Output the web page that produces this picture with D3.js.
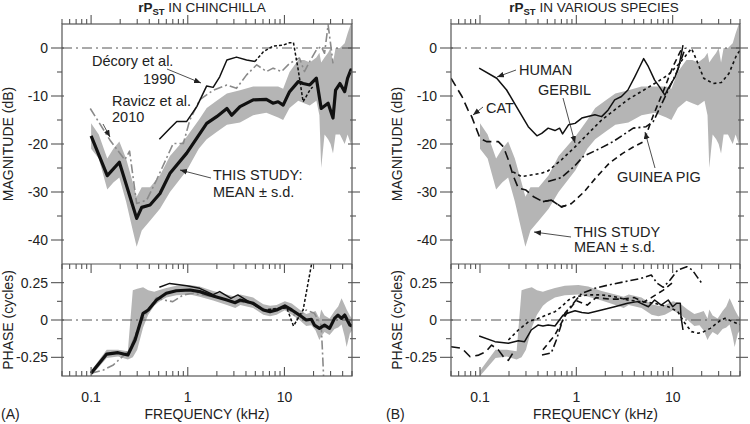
<!DOCTYPE html>
<html>
<head>
<meta charset="utf-8">
<script src="https://cdn.jsdelivr.net/npm/d3@7"></script>
<style>
  body { margin: 0; background: #fff; }
  text { font-family: "Liberation Sans", Arial, sans-serif; fill: #222; }
</style>
</head>
<body>
<script>
// ---- this study (chinchilla), mean and band ----
const magMeanF = [0.1, 0.147, 0.196, 0.296, 0.334, 0.407, 0.516, 0.655, 0.975, 1.57, 1.99, 2.54, 2.85, 3.47, 4.75, 6.5, 7.6, 8.6, 9.7, 11.3, 13.9, 15.6, 18.3, 21.4, 24, 28.3, 31.8, 33.8, 37.5, 42, 45, 48.6, 50];
const magMean = [-18.3, -26.6, -23.8, -35.5, -33.2, -32.7, -30.3, -26.1, -21.9, -15.7, -14.3, -12.6, -14.0, -12.2, -10.8, -10.7, -11.5, -11.2, -11.9, -9.1, -7.0, -7.4, -7.7, -6.3, -12.6, -11.5, -14.6, -8.8, -7.4, -9.1, -6.3, -4.6, -4.5];

const magBandF = [0.1, 0.12, 0.147, 0.17, 0.196, 0.23, 0.27, 0.296, 0.334, 0.407, 0.516, 0.655, 0.975, 1.3, 1.57, 1.99, 2.54, 3.47, 4.75, 6.5, 8.6, 9.7, 11.3, 13.9, 16, 18.3, 21.4, 23, 24, 26, 28.3, 30, 31.8, 33.8, 37.5, 42, 45, 48.6, 50];
const magBandHi = [-15.7, -18, -23, -21, -19.5, -23, -28, -31, -29, -29, -26.5, -22.5, -18.5, -15, -12.5, -11, -9.5, -8.8, -8, -8, -8, -8.5, -5, -2.5, -2.5, -3, -2, -1, -3, -2, -1, 0, -3, 0, 0, 1, 3, 5, 5];
const magBandLo = [-21, -23, -29.5, -28, -27, -32, -38, -41.4, -38, -36, -33.5, -30, -25.5, -21, -19, -17.5, -16, -15.5, -14, -13.5, -14.5, -15, -12.5, -11, -11.5, -12, -11, -14, -25, -18, -19, -20, -22, -18, -18, -20, -18, -20, -19];

const phMeanF = [0.1, 0.145, 0.19, 0.24, 0.285, 0.345, 0.39, 0.475, 0.6, 0.76, 1.05, 1.33, 1.83, 2.54, 3.1, 3.5, 4.75, 6.05, 7.1, 8.3, 10.1, 11.9, 14.3, 16.8, 19, 20.4, 23, 26, 29.3, 33, 35.8, 38.9, 42, 47.5, 50];
const phMean = [-0.357, -0.228, -0.219, -0.234, -0.134, 0.045, 0.067, 0.134, 0.179, 0.196, 0.201, 0.19, 0.161, 0.134, 0.116, 0.134, 0.112, 0.067, 0.056, 0.067, 0.094, 0.067, 0.033, 0, 0.005, -0.034, -0.056, -0.034, -0.056, 0.011, 0.033, 0.011, 0.033, -0.034, -0.04];

const phBandF = [0.1, 0.145, 0.19, 0.24, 0.27, 0.3, 0.345, 0.39, 0.45, 0.5, 0.6, 0.76, 1.05, 1.33, 1.83, 2.54, 3.1, 3.5, 4.75, 6.05, 7.1, 8.3, 10.1, 11.9, 14.3, 16.8, 19, 21, 23, 24, 26, 29.3, 33, 36, 39, 42, 44, 47.5, 50];
const phBandHi = [-0.34, -0.2, -0.2, -0.21, 0.2, 0.21, 0.22, 0.2, 0.19, 0.2, 0.215, 0.23, 0.235, 0.225, 0.195, 0.17, 0.155, 0.17, 0.15, 0.105, 0.095, 0.1, 0.125, 0.11, 0.07, 0.04, 0.05, 0.06, 0.01, 0.07, 0.03, 0.01, 0.06, 0.09, 0.145, 0.1, 0.07, 0.03, 0.01];
const phBandLo = [-0.375, -0.255, -0.245, -0.265, -0.25, -0.2, -0.05, 0.035, 0.095, 0.12, 0.15, 0.165, 0.17, 0.155, 0.13, 0.1, 0.08, 0.1, 0.08, 0.035, 0.025, 0.035, 0.065, 0.035, 0, -0.04, -0.035, -0.07, -0.134, -0.11, -0.08, -0.1, -0.06, -0.05, -0.03, -0.11, -0.18, -0.09, -0.07];

// ---- Décory et al. 1990 (chinchilla) ----
const decMagSolidF = [0.508, 0.655, 0.77, 0.975, 1.24, 1.57, 1.83, 2.14, 2.54, 3.19, 4.06, 4.95];
const decMagSolid = [-19.0, -16.7, -15.3, -15.3, -12.2, -7.9, -8.2, -6.0, -2.5, -1.9, -2.5, -2.8];
const decMagDotF = [4.95, 6.05, 7.6, 9.7, 11.3, 12.4, 13.9, 15.6, 18.3, 19.6];
const decMagDot = [-2.8, -0.8, 0.4, 0.6, 1.1, 1.1, -4.6, -11.2, -8.8, -8.1];
const decPhSolidF = [0.508, 0.65, 0.975, 1.33, 1.83, 2.14, 2.8, 3.3, 4.0, 5.2, 6.0];
const decPhSolid = [0.219, 0.245, 0.23, 0.212, 0.17, 0.19, 0.145, 0.168, 0.134, 0.089, 0.067];
const decPhDotF = [6.0, 8.0, 10.6, 12.4, 15.6, 19.0, 21];
const decPhDot = [0.067, 0.075, 0.08, -0.04, 0.067, 0.368, 0.45];

// ---- Ravicz et al. 2010 (chinchilla) ----
const ravMagF = [0.098, 0.157, 0.223, 0.25, 0.296, 0.376, 0.475, 0.707, 0.9, 1.05, 1.33, 1.83, 2.54, 3.19, 4.06, 5.17, 6.53, 7.63, 9.35, 11.3, 14.3, 16.1, 18.3, 21.4, 24.0, 26, 28.3, 30.6, 31.8];
const ravMag = [-12.6, -19.2, -23.3, -21.5, -32.4, -31.7, -27.5, -19.9, -19.9, -15, -10.8, -8.8, -7.7, -8.4, -5.6, -3.5, -4.9, -4.2, -4.9, -3.2, -2.1, -4.9, -2.8, -0.4, 0.3, -1.1, 4.8, -0.4, -3.2];
const ravPhF = [0.1, 0.134, 0.17, 0.25, 0.3, 0.34, 0.41, 0.475, 0.56, 0.7, 0.9, 1.13, 1.83, 2.8, 4.75, 6.5, 8.6, 11.3, 13.4, 16.8, 20.4, 24, 24.8, 25.5];
const ravPh = [-0.357, -0.335, -0.301, -0.2, -0.067, 0, 0.089, 0.15, 0.134, 0.123, 0.168, 0.179, 0.155, 0.13, 0.11, 0.067, 0.08, 0.075, 0.01, 0.067, 0.045, -0.034, -0.223, -0.4];

// ---- other species ----
const humMagF = [0.098, 0.149, 0.189, 0.25, 0.317, 0.39, 0.437, 0.51, 0.6, 0.67, 0.72, 0.83, 0.97, 1.14, 1.56, 1.83, 2.14, 2.5, 2.94, 3.43, 4.04, 4.55, 5.0, 5.6, 6.5, 7.3, 8.3, 9.0, 10.6, 11.6, 12.8];
const humMag = [-4.2, -6.3, -8.75, -12.9, -16.4, -18.3, -17.8, -16.7, -17.2, -16.7, -17.9, -16, -15.7, -14.6, -13.9, -14.3, -12.9, -10.8, -10.1, -8.75, -6, -3.9, -2.2, -3.9, -6.7, -8.1, -9.8, -8.4, -6.0, -3.9, 0.6];
const humPhF = [0.098, 0.143, 0.197, 0.25, 0.29, 0.34, 0.4, 0.45, 0.51, 0.6, 0.73, 0.85, 0.97, 1.14, 1.33, 1.83, 2.5, 3.4, 4.3, 5.6, 6.5, 7.6, 9.0, 10, 11, 12, 12.2, 12.8];
const humPh = [-0.107, -0.145, -0.156, -0.139, -0.145, -0.067, -0.034, -0.04, -0.034, -0.04, 0.033, 0.05, 0.062, 0.05, 0.045, 0.067, 0.089, 0.112, 0.123, 0.089, 0.134, 0.1, 0.134, 0.089, 0.112, 0.112, 0.022, -0.067];

const catMagF = [0.05, 0.065, 0.075, 0.082, 0.1, 0.117, 0.155, 0.175, 0.197, 0.22, 0.25, 0.3, 0.36, 0.45, 0.55, 0.7, 0.89];
const catMag = [-6.3, -10.1, -12.9, -14.3, -18.8, -19.5, -19.5, -20.6, -23.3, -26.5, -29.2, -29.6, -31.0, -32, -31.7, -33.1, -32.4];
const catPhF = [0.05, 0.065, 0.079, 0.097, 0.115, 0.132, 0.155, 0.175, 0.197, 0.23];
const catPh = [-0.179, -0.19, -0.246, -0.235, -0.212, -0.168, -0.2, -0.246, -0.27, -0.2];

const gerMagF = [0.22, 0.27, 0.43, 0.51, 0.7, 0.97, 1.33, 1.83, 2.5, 3.4, 4.7, 6.5, 9, 11.4, 13.4, 15.7, 17.7, 21, 26.4, 32, 38.4, 46, 50];
const gerMag = [-25.8, -26.8, -26.1, -25.6, -23.3, -20.6, -17.8, -15, -12.9, -10.8, -9.1, -7.4, -5.6, -3.5, -1.8, -0.1, -2.5, -6.3, -7.4, -7.2, -5.3, -1.5, -0.5];
const gerPhF = [0.197, 0.25, 0.32, 0.4, 0.6, 0.7, 0.83, 0.97, 1.33, 1.83, 2.5, 3.4, 4.7, 6.5, 9, 11.3, 13.4, 15.7, 18.4, 21, 24.6, 31.7, 35, 46, 50];
const gerPh = [-0.134, -0.067, -0.011, 0.01, 0.056, 0.089, 0.134, 0.156, 0.168, 0.168, 0.156, 0.134, 0.123, 0.112, 0.089, 0.056, -0.022, -0.078, -0.089, -0.078, -0.056, 0, 0.011, -0.022, -0.03];

const gpMagF = [0.51, 0.7, 0.97, 1.18, 1.77, 2.41, 3.9, 5.3, 6.3, 8.7, 11.1, 13.5];
const gpMag = [-27.8, -27, -24.5, -22.6, -20.9, -19.5, -16.7, -16.4, -15.3, -9.4, -4.9, 0];
const gpPhF = [0.44, 0.55, 0.62, 0.76, 1.14, 1.56, 2.14, 3.2, 4.7, 6, 6.9, 8, 9.4, 11.3, 14, 16, 18.4, 20.1];
const gpPh = [-0.234, -0.22, -0.134, 0.045, 0.179, 0.212, 0.234, 0.257, 0.279, 0.301, 0.246, 0.219, 0.268, 0.335, 0.357, 0.335, 0.279, 0.246];

const gp2MagF = [0.45, 0.55, 0.7, 0.89, 1.2, 1.6, 2.2, 3, 4, 5, 6.3, 8, 10, 12.5];
const gp2Mag = [-32, -31.7, -33.1, -32.4, -30, -27, -24, -22, -20.5, -19.5, -14, -9, -4, 0];
const gp2PhF = [0.45, 0.6, 0.8, 1, 1.3, 1.6, 2.2, 3, 4, 5, 6, 8, 10];
const gp2Ph = [-0.2, -0.1, 0.05, 0.13, 0.1, 0.15, 0.14, 0.14, 0.15, 0.12, 0.15, 0.2, 0.25];

const xTickLabels = ["0.1", "1", "10"];
const magTicks = [0, -10, -20, -30, -40];
const phTicks = [0.25, 0, -0.25];

// ---- layout ----
const width = 750, height = 424;
const svg = d3.select("body").append("svg")
  .attr("width", width).attr("height", height);

const yMag = d3.scaleLinear().domain([5, -45]).range([24, 264]);
const yPh = d3.scaleLinear().domain([0.375, -0.375]).range([264, 376]);

const pts = (fs, vs) => fs.map((f, i) => [f, vs[i]]);

const drawPanel = (x0, x1, id) => {
  const x = d3.scaleLog().domain([0.05, 50]).range([x0, x1]);
  const g = svg.append("g");

  const defs = svg.append("defs");
  defs.append("clipPath").attr("id", "clipMag" + id)
    .append("rect").attr("x", x0).attr("y", 24).attr("width", x1 - x0).attr("height", 240);
  defs.append("clipPath").attr("id", "clipPh" + id)
    .append("rect").attr("x", x0).attr("y", 264).attr("width", x1 - x0).attr("height", 112);

  const gMag = g.append("g").attr("clip-path", `url(#clipMag${id})`);
  const gPh = g.append("g").attr("clip-path", `url(#clipPh${id})`);

  const lineM = d3.line().x((d) => x(d[0])).y((d) => yMag(d[1]));
  const lineP = d3.line().x((d) => x(d[0])).y((d) => yPh(d[1]));

  // bands
  gMag.append("path")
    .datum(magBandF.map((f, i) => [f, magBandLo[i], magBandHi[i]]))
    .attr("fill", "#b5b5b5")
    .attr("d", d3.area().x((d) => x(d[0])).y0((d) => yMag(d[1])).y1((d) => yMag(d[2])));
  gPh.append("path")
    .datum(phBandF.map((f, i) => [f, phBandLo[i], phBandHi[i]]))
    .attr("fill", "#b5b5b5")
    .attr("d", d3.area().x((d) => x(d[0])).y0((d) => yPh(d[1])).y1((d) => yPh(d[2])));

  // zero lines
  gMag.append("line").attr("x1", x0).attr("x2", x1)
    .attr("y1", yMag(0)).attr("y2", yMag(0))
    .attr("stroke", "#555").attr("stroke-width", 1).attr("stroke-dasharray", "10,4,2,4");
  gPh.append("line").attr("x1", x0).attr("x2", x1)
    .attr("y1", yPh(0)).attr("y2", yPh(0))
    .attr("stroke", "#555").attr("stroke-width", 1).attr("stroke-dasharray", "10,4,2,4");

  const addLine = (grp, gen, data, color, w, dash) => {
    grp.append("path").datum(data)
      .attr("fill", "none").attr("stroke", color).attr("stroke-width", w)
      .attr("stroke-linejoin", "round")
      .attr("stroke-dasharray", dash || null)
      .attr("d", gen);
  };

  if (id === "A") {
    addLine(gMag, lineM, pts(ravMagF, ravMag), "#8a8a8a", 1.6, "9,3,2,3");
    addLine(gMag, lineM, pts(decMagSolidF, decMagSolid), "#111", 1.5);
    addLine(gMag, lineM, pts(decMagDotF, decMagDot), "#111", 1.5, "3,2");
    addLine(gMag, lineM, pts(magMeanF, magMean), "#111", 3.2);

    addLine(gPh, lineP, pts(ravPhF, ravPh), "#8a8a8a", 1.6, "9,3,2,3");
    addLine(gPh, lineP, pts(decPhSolidF, decPhSolid), "#111", 1.5);
    addLine(gPh, lineP, pts(decPhDotF, decPhDot), "#111", 1.5, "3,2");
    addLine(gPh, lineP, pts(phMeanF, phMean), "#111", 3.2);
  } else {
    addLine(gMag, lineM, pts(humMagF, humMag), "#111", 1.5);
    addLine(gMag, lineM, pts(catMagF, catMag), "#111", 1.6, "9,5");
    addLine(gMag, lineM, pts(gerMagF, gerMag), "#111", 1.6, "3,3");
    addLine(gMag, lineM, pts(gpMagF, gpMag), "#111", 1.6, "8,3,2,3");
    addLine(gMag, lineM, pts(gp2MagF, gp2Mag), "#111", 1.6, "6,4");

    addLine(gPh, lineP, pts(humPhF, humPh), "#111", 1.5);
    addLine(gPh, lineP, pts(catPhF, catPh), "#111", 1.6, "9,5");
    addLine(gPh, lineP, pts(gerPhF, gerPh), "#111", 1.6, "3,3");
    addLine(gPh, lineP, pts(gpPhF, gpPh), "#111", 1.6, "8,3,2,3");
    addLine(gPh, lineP, pts(gp2PhF, gp2Ph), "#111", 1.6, "6,4");
  }

  // frames
  const axisCol = "#555";
  g.append("rect").attr("x", x0).attr("y", 24).attr("width", x1 - x0).attr("height", 352)
    .attr("fill", "none").attr("stroke", axisCol).attr("stroke-width", 1.2);
  g.append("line").attr("x1", x0).attr("x2", x1).attr("y1", 264).attr("y2", 264)
    .attr("stroke", axisCol).attr("stroke-width", 1.2);

  // x ticks
  const xt = x.ticks();
  const isMajor = (v) => Math.abs(Math.log10(v) - Math.round(Math.log10(v))) < 1e-6;
  xt.forEach((v) => {
    const px = x(v);
    const len = isMajor(v) ? 9 : 5;
    g.append("line").attr("x1", px).attr("x2", px).attr("y1", 24).attr("y2", 24 - len)
      .attr("stroke", axisCol).attr("stroke-width", 1.1);
    g.append("line").attr("x1", px).attr("x2", px).attr("y1", 264).attr("y2", 264 + len)
      .attr("stroke", axisCol).attr("stroke-width", 1.1);
    g.append("line").attr("x1", px).attr("x2", px).attr("y1", 376).attr("y2", 376 - len)
      .attr("stroke", axisCol).attr("stroke-width", 1.1);
  });
  [0.1, 1, 10].forEach((v, i) => {
    g.append("text").attr("x", x(v)).attr("y", 402).attr("text-anchor", "middle")
      .attr("font-size", 14).text(xTickLabels[i]);
  });

  // y ticks
  const yTick = (py, major) => {
    g.append("line").attr("x1", x0 - (major ? 11 : 5)).attr("x2", x0 + (major ? 2 : 0))
      .attr("y1", py).attr("y2", py).attr("stroke", axisCol).attr("stroke-width", 1.1);
    g.append("line").attr("x1", x1 - (major ? 4 : 2)).attr("x2", x1 + (major ? 8 : 4))
      .attr("y1", py).attr("y2", py).attr("stroke", axisCol).attr("stroke-width", 1.1);
  };
  d3.range(0, -41, -5).forEach((v) => yTick(yMag(v), v % 10 === 0));
  [0.25, 0.125, 0, -0.125, -0.25].forEach((v) => yTick(yPh(v), v % 0.25 === 0));
  magTicks.forEach((v) => {
    g.append("text").attr("x", x0 - 14).attr("y", yMag(v) + 5).attr("text-anchor", "end")
      .attr("font-size", 14).text(v);
  });
  phTicks.forEach((v) => {
    g.append("text").attr("x", x0 - 14).attr("y", yPh(v) + 5).attr("text-anchor", "end")
      .attr("font-size", 14).text(v);
  });

  // axis titles
  g.append("text").attr("transform", `translate(${x0 - 49},144) rotate(-90)`)
    .attr("text-anchor", "middle").attr("font-size", 14).text("MAGNITUDE (dB)");
  g.append("text").attr("transform", `translate(${x0 - 49},320) rotate(-90)`)
    .attr("text-anchor", "middle").attr("font-size", 14).text("PHASE (cycles)");
  g.append("text").attr("x", (x0 + x1) / 2).attr("y", 419)
    .attr("text-anchor", "middle").attr("font-size", 14).text("FREQUENCY (kHz)");

  return x;
};

drawPanel(62, 352, "A");
drawPanel(451, 740, "B");

// titles and panel letters
const title = (cx, rest) => {
  const t = svg.append("text").attr("x", cx).attr("y", 12).attr("text-anchor", "middle")
    .attr("font-size", 13.5);
  t.append("tspan").attr("font-weight", "bold").text("rP");
  t.append("tspan").attr("font-weight", "bold").attr("font-size", 9.5).attr("dy", 3).text("ST");
  t.append("tspan").attr("dy", -3).text(rest);
};
title(202, " IN CHINCHILLA");
title(594, " IN VARIOUS SPECIES");
svg.append("text").attr("x", 1).attr("y", 419).attr("font-size", 14).text("(A)");
svg.append("text").attr("x", 386).attr("y", 419).attr("font-size", 14).text("(B)");

// annotations
svg.append("defs").append("marker").attr("id", "arr")
  .attr("viewBox", "0 -4 10 8").attr("refX", 10).attr("refY", 0)
  .attr("markerWidth", 7).attr("markerHeight", 6).attr("orient", "auto")
  .attr("markerUnits", "userSpaceOnUse")
  .append("path").attr("d", "M0,-4L10,0L0,4Z").attr("fill", "#222");

const note = (lines, x, y0, dy) => {
  lines.forEach((s, i) => {
    svg.append("text").attr("x", x[i]).attr("y", y0 + i * dy).attr("font-size", 14.5).text(s);
  });
};
const pointer = (x1, y1, x2, y2) => {
  svg.append("line").attr("x1", x1).attr("y1", y1).attr("x2", x2).attr("y2", y2)
    .attr("stroke", "#222").attr("stroke-width", 0.8).attr("marker-end", "url(#arr)");
};

note(["Décory et al.", "1990"], [92, 143], 66, 18);
pointer(167, 69, 201, 83);
note(["Ravicz et al.", "2010"], [112, 112], 106, 16);
pointer(103, 124, 110, 137);
note(["THIS STUDY:", "MEAN ± s.d."], [213, 213], 180, 17);
pointer(211, 178, 180, 170);

note(["HUMAN"], [519], 75, 0);
pointer(516, 70, 497, 77);
note(["GERBIL"], [538], 95, 0);
pointer(563, 98, 575, 143);
note(["CAT"], [486], 113, 0);
pointer(483, 107, 473, 115);
note(["GUINEA PIG"], [617], 182, 0);
pointer(655, 168, 645, 132);
note(["THIS STUDY", "MEAN ± s.d."], [574, 574], 237, 15);
pointer(571, 237, 534, 232);
</script>
</body>
</html>
